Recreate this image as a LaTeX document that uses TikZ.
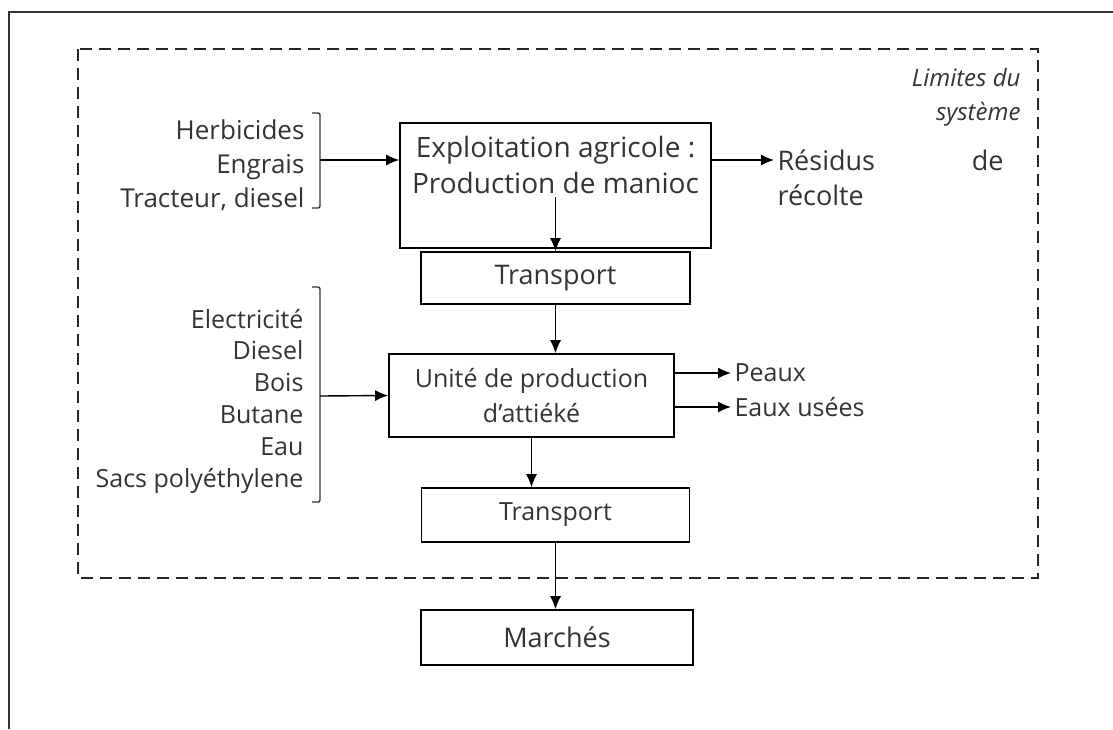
\documentclass[tikz,border=0pt]{standalone}
\usepackage{fontspec}
\setmainfont{Open Sans}
\usepackage{xcolor}
\usepackage{tikz}
\usetikzlibrary{arrows.meta, calc}
\definecolor{ink}{HTML}{333333}
\tikzstyle{component} = [rectangle, draw=black, line width=1.6pt, text=ink,
    align=center, font=\fontsize{27}{35}\selectfont]
\tikzstyle{flow} = [rectangle, text=ink, font=\fontsize{25}{32}\selectfont]
\tikzstyle{line} = [draw, line width=1.4pt, -{Latex[length=13pt, width=11pt]}]
\tikzstyle{bracket} = [draw, line width=1.4pt, black!80, rounded corners=2pt]

\begin{document}
\begin{tikzpicture}[x=1pt, y=-1pt]
    \useasboundingbox (0,0) rectangle (1113,729);
    % Frame
    \draw[line width=2.4pt, black!80] (9,729) -- (9,12) -- (1113,12);
    \draw[line width=1.6pt, black!85, dash pattern=on 12pt off 7pt] (78,49) rectangle (1038,578);
    \node [flow, anchor=east, align=right, font=\itshape\fontsize{24}{34}\selectfont] (limits) at (1024,97) {Limites du\\système};
    % Nodes
    \node [component, minimum width=311pt, minimum height=125pt] (farm) at (555.5,185.5) {};
    \node [flow, align=center, font=\fontsize{28}{36}\selectfont] (farmtext) at (555.5,165) {Exploitation agricole :\\Production de manioc};
    \node [component, minimum width=269pt, minimum height=52pt] (transportfarm) at (555.5,278) {Transport};
    \node [component, minimum width=285pt, minimum height=83pt, font=\fontsize{25}{35}\selectfont] (unit) at (531.5,395.5) {Unité de production\\d’attiéké};
    \node [component, minimum width=268pt, minimum height=54pt, font=\fontsize{25}{30}\selectfont] (transportmarket) at (555.5,515) {Transport};
    \node [component, minimum width=272pt, minimum height=55pt] (market) at (557,637.5) {Marchés};
    % Inputs
    \node [flow, anchor=east, align=right, font=\fontsize{26}{34}\selectfont] (inputsfarm) at (308,165) {Herbicides\\Engrais\\Tracteur, diesel};
    \node [flow, anchor=east, align=right, font=\fontsize{25}{31.8}\selectfont] (inputsunit) at (307,401) {Electricité\\Diesel\\Bois\\Butane\\Eau\\Sacs polyéthylene};
    \path[bracket] (312,113) -- (320,113) -- (320,208) -- (312,208);
    \path[bracket] (312,287) -- (320,287) -- (320,502) -- (312,502);
    \coordinate (joinfarm) at (320,160);
    \coordinate (joinunit) at (320,396);
    % Outputs
    \node [flow, anchor=west, text width=226pt, font=\fontsize{27}{32}\selectfont] (residus) at (774,160) {Résidus\hfill de};
    \node [flow, anchor=west, font=\fontsize{27}{32}\selectfont] (recolte) at (774,195) {récolte};
    \node [flow, anchor=west] (peaux) at (731,373) {Peaux};
    \node [flow, anchor=west] (eaux) at (731,407) {Eaux usées};
    % Edges
    \draw[line] (joinfarm) -- (joinfarm -| farm.west);
    \draw[line] (joinunit) -- (unit.west);
    \draw[line] (farm.east |- residus) -- (residus.west);
    \draw[line] (farmtext.south) -- (farmtext.south |- transportfarm.north);
    \draw[line] (transportfarm.south) -- (transportfarm.south |- unit.north);
    \draw[line] (unit.east |- peaux) -- (peaux.west);
    \draw[line] (unit.east |- eaux) -- (eaux.west);
    \draw[line] (unit.south) -- (unit.south |- transportmarket.north);
    \draw[line] (transportmarket.south) -- (transportmarket.south |- market.north);
\end{tikzpicture}
\end{document}
